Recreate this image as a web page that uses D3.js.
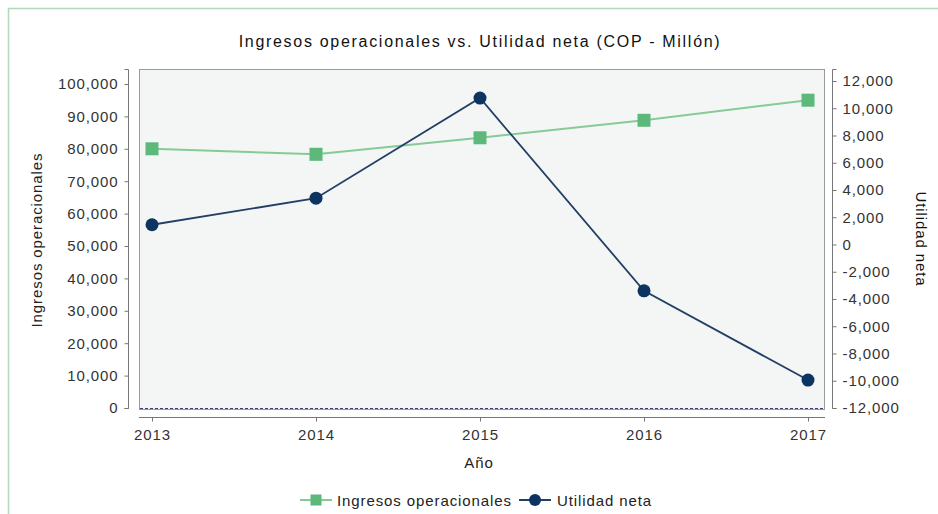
<!DOCTYPE html>
<html>
<head>
<meta charset="utf-8">
<script src="https://cdn.jsdelivr.net/npm/d3@7"></script>
<style>
  html, body { margin: 0; padding: 0; background: #ffffff; }
  svg { display: block; }
  text { font-family: "Liberation Sans", Arial, sans-serif; }
</style>
</head>
<body>
<svg id="chart" width="938" height="514"></svg>
<script>
// ---- data ----
const years = ["2013", "2014", "2015", "2016", "2017"];
const ingresos = [80000, 78300, 83400, 88800, 95000];
const utilidad = [1450, 3400, 10750, -3400, -9950];
const leftTicks = [0, 10000, 20000, 30000, 40000, 50000, 60000, 70000, 80000, 90000, 100000];
const rightTicks = [-12000, -10000, -8000, -6000, -4000, -2000, 0, 2000, 4000, 6000, 8000, 10000, 12000];
const titleText = "Ingresos operacionales vs. Utilidad neta (COP - Millón)";
const leftTitle = "Ingresos operacionales";
const rightTitle = "Utilidad neta";
const xTitle = "Año";
const seriesNames = ["Ingresos operacionales", "Utilidad neta"];

// ---- layout ----
const plot = { x0: 139, x1: 824, y0: 69, y1: 409 };
const green = "#5db87b", greenLine = "#86cb96", navy = "#0d3461";
const fmt = d3.format(",");
const fmtH = v => fmt(v).replace("\u2212", "-");

const svg = d3.select("#chart");

// outer frame (light green)
svg.append("path")
  .attr("d", "M8.5,514 L8.5,8.5 L938,8.5")
  .attr("fill", "none").attr("stroke", "#b2d8b8").attr("stroke-width", 1.5);

// title
svg.append("text")
  .attr("x", 480).attr("y", 47)
  .attr("text-anchor", "middle")
  .attr("font-size", 16).attr("letter-spacing", 1.7)
  .attr("fill", "#111")
  .text(titleText);

// scales
const x = d3.scalePoint().domain(years).range([152, 808]);
const yL = d3.scaleLinear().domain([0, 100000]).range([408, 84]);
const yR = d3.scaleLinear().domain([-12000, 12000]).range([408, 81]);

// plot background & frame
svg.append("rect")
  .attr("x", plot.x0 + 0.5).attr("y", plot.y0 + 0.5)
  .attr("width", plot.x1 - plot.x0).attr("height", plot.y1 - plot.y0)
  .attr("fill", "#f4f6f6").attr("stroke", "#9a9a9a").attr("stroke-width", 1);

// dashed baseline at bottom
svg.append("line")
  .attr("x1", plot.x0 + 1).attr("x2", plot.x1)
  .attr("y1", yL(0) + 0.5).attr("y2", yL(0) + 0.5)
  .attr("stroke", "#3a3f6e").attr("stroke-width", 1).attr("stroke-dasharray", "3,2");

function styleAxis(g) {
  g.selectAll("path.domain").attr("stroke", "#777").attr("stroke-width", 1);
  g.selectAll(".tick line").attr("stroke", "#777");
  g.selectAll(".tick text")
    .attr("font-size", 15).attr("letter-spacing", 0.9)
    .attr("fill", "#333")
    .attr("font-family", "'Liberation Sans', Arial, sans-serif");
}

// left axis
const gL = svg.append("g").attr("transform", "translate(128.5,0)")
  .call(d3.axisLeft(yL).tickValues(leftTicks).tickFormat(fmtH).tickSize(4).tickSizeOuter(4).tickPadding(6));
gL.select("path.domain").attr("d", "M-4," + (plot.y0 + 0.5) + "H0V" + (yL(0) + 0.5) + "H-4");
styleAxis(gL);

// right axis
const gR = svg.append("g").attr("transform", "translate(832.5,0)")
  .call(d3.axisRight(yR).tickValues(rightTicks).tickFormat(fmtH).tickSize(4).tickSizeOuter(4).tickPadding(6));
gR.select("path.domain").attr("d", "M4," + (plot.y0 + 0.5) + "H0V" + (yR(-12000) + 0.5) + "H4");
styleAxis(gR);

// bottom axis
const gX = svg.append("g").attr("transform", "translate(0,417.5)")
  .call(d3.axisBottom(x).tickSize(4).tickSizeOuter(0).tickPadding(8));
gX.select("path.domain").attr("d", "M" + plot.x0 + ",0H" + (plot.x1 + 1));
styleAxis(gX);

// axis titles
svg.append("text")
  .attr("transform", "translate(42,240) rotate(-90)")
  .attr("text-anchor", "middle").attr("font-size", 15).attr("letter-spacing", 0.9)
  .attr("fill", "#222").text(leftTitle);
svg.append("text")
  .attr("transform", "translate(916,239) rotate(90)")
  .attr("text-anchor", "middle").attr("font-size", 15).attr("letter-spacing", 0.9)
  .attr("fill", "#111").text(rightTitle);
svg.append("text")
  .attr("x", 479).attr("y", 468)
  .attr("text-anchor", "middle").attr("font-size", 15).attr("letter-spacing", 0.9)
  .attr("fill", "#222").text(xTitle);

// series: Ingresos (left)
const lineL = d3.line().x((d, i) => x(years[i])).y(d => yL(d));
svg.append("path").datum(ingresos)
  .attr("d", lineL).attr("fill", "none")
  .attr("stroke", greenLine).attr("stroke-width", 2);
svg.selectAll("rect.sq").data(ingresos).enter().append("rect")
  .attr("class", "sq")
  .attr("x", (d, i) => x(years[i]) - 6.5).attr("y", d => yL(d) - 6.5)
  .attr("width", 13).attr("height", 13).attr("fill", green);

// series: Utilidad (right)
const lineR = d3.line().x((d, i) => x(years[i])).y(d => yR(d));
svg.append("path").datum(utilidad)
  .attr("d", lineR).attr("fill", "none")
  .attr("stroke", "#233f66").attr("stroke-width", 1.8);
svg.selectAll("circle.pt").data(utilidad).enter().append("circle")
  .attr("class", "pt")
  .attr("cx", (d, i) => x(years[i])).attr("cy", d => yR(d))
  .attr("r", 6.5).attr("fill", navy);

// legend
const lg = svg.append("g");
const ly = 500;
lg.append("line").attr("x1", 300).attr("x2", 332).attr("y1", ly).attr("y2", ly)
  .attr("stroke", greenLine).attr("stroke-width", 2);
lg.append("rect").attr("x", 310.5).attr("y", ly - 5.5).attr("width", 11).attr("height", 11).attr("fill", green);
lg.append("text").attr("x", 337).attr("y", ly + 5.5)
  .attr("font-size", 15).attr("letter-spacing", 0.9).attr("fill", "#222").text(seriesNames[0]);
lg.append("line").attr("x1", 519).attr("x2", 551).attr("y1", ly).attr("y2", ly)
  .attr("stroke", "#233f66").attr("stroke-width", 2);
lg.append("circle").attr("cx", 535).attr("cy", ly).attr("r", 6).attr("fill", navy);
lg.append("text").attr("x", 557).attr("y", ly + 5.5)
  .attr("font-size", 15).attr("letter-spacing", 0.9).attr("fill", "#222").text(seriesNames[1]);
</script>
</body>
</html>
